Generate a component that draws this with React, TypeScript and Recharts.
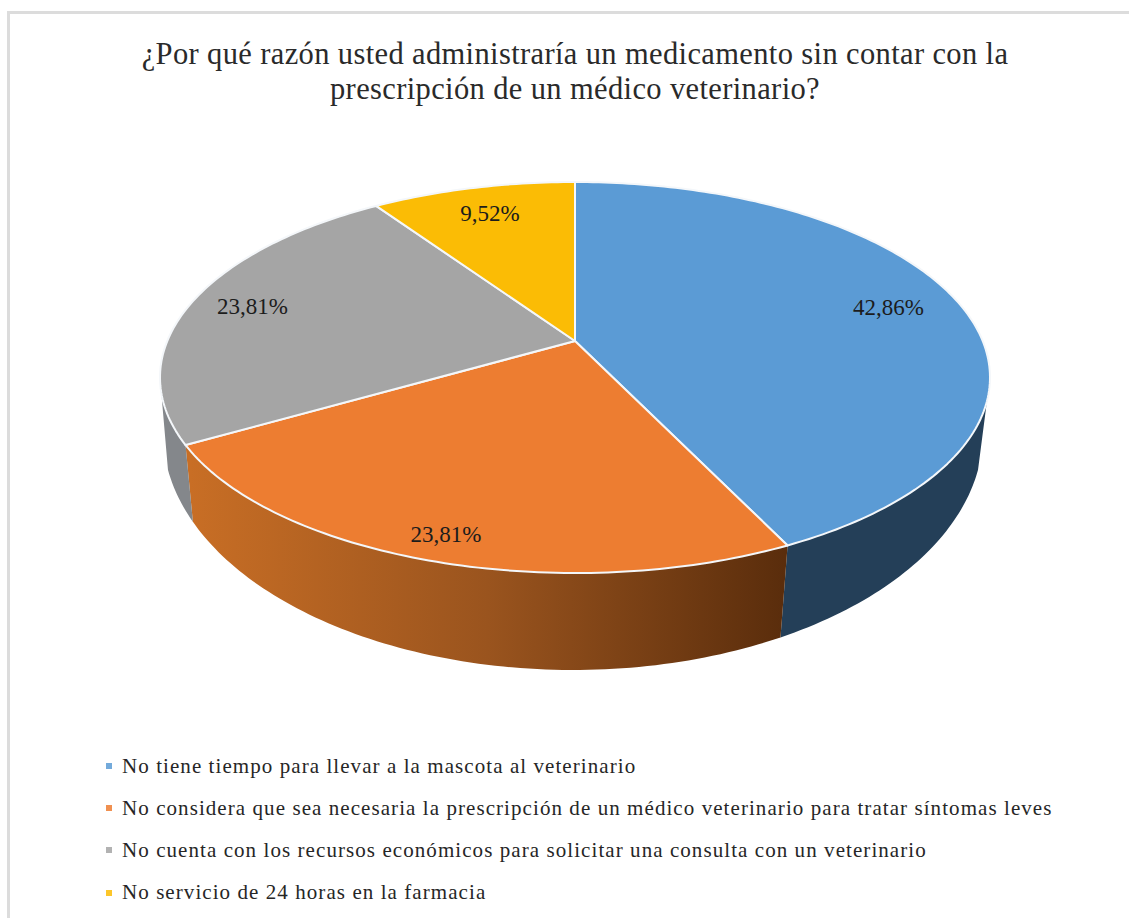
import React from "react";
import { PieChart, Pie, Cell, Legend } from "recharts";

const categories = [
  "No tiene tiempo para llevar a la mascota al veterinario",
  "No considera que sea necesaria la prescripción de un médico veterinario para tratar síntomas leves",
  "No cuenta con los recursos económicos para solicitar una consulta con un veterinario",
  "No servicio de 24 horas en la farmacia",
];
const shares = [42.86, 23.81, 23.81, 9.52];
const percentLabels = ["42,86%", "23,81%", "23,81%", "9,52%"];
const topColors = ["#5b9bd5", "#ed7d31", "#a5a5a5", "#fbbc05"];
const wallColors = ["#243f58", "url(#orangeWall)", "#84878b", "#7f6000"];
const titleLines = [
  "¿Por qué razón usted administraría un medicamento sin contar con la",
  "prescripción de un médico veterinario?",
];

const rows = categories.map((name, i) => ({ name, value: shares[i], label: percentLabels[i] }));

// projection of the pie's circle onto the tilted disc
const APEX_X = 575;
const APEX_Y = 341;
const TILT = 0.1867;
const SCALE_X = 407.7;
const SCALE_Y = 188.7;
const RIM_X = 573;
const RIM_Y = 433;
const RIM_RX = 410;
const RIM_RY = 237;
const RIM_K = 0.976;
const LABEL_R = [0.815, 0.9, 0.84, 0.81];

const project = (clockDeg: number, r = 1) => {
  const t = (clockDeg * Math.PI) / 180;
  const u = Math.sin(t);
  const v = Math.cos(t);
  const d = 1 + TILT * v * r;
  return { x: APEX_X + (SCALE_X * u * r) / d, y: APEX_Y - (SCALE_Y * v * r) / d };
};

const rimPoint = (clockDeg: number) => {
  const p = project(clockDeg);
  const off = (p.x - APEX_X) * RIM_K;
  return {
    x: RIM_X + off,
    y: RIM_Y + RIM_RY * Math.sqrt(Math.max(0, 1 - (off / RIM_RX) ** 2)),
  };
};

const sweep = (a: number, b: number) => {
  const n = Math.max(2, Math.ceil(Math.abs(b - a)));
  return Array.from({ length: n + 1 }, (_, i) => a + ((b - a) * i) / n);
};

const toPath = (pts: { x: number; y: number }[]) =>
  pts.map((p, i) => `${i ? "L" : "M"}${p.x.toFixed(2)} ${p.y.toFixed(2)}`).join("") + "Z";

const TopSlice = (props: any) => {
  const a = 90 - props.startAngle;
  const b = 90 - props.endAngle;
  const pts = [{ x: APEX_X, y: APEX_Y }, ...sweep(a, b).map((d) => project(d))];
  return <path d={toPath(pts)} fill={props.fill} stroke="#f4f7fa" strokeWidth={2} strokeLinejoin="round" />;
};

const WallSlice = (props: any) => {
  const lo = (Math.acos(-TILT) * 180) / Math.PI;
  const hi = 360 - lo;
  const a = Math.max(90 - props.startAngle, lo);
  const b = Math.min(90 - props.endAngle, hi);
  if (b <= a) return <g />;
  const angles = sweep(a, b);
  const pts = [...angles.map((d) => project(d)), ...[...angles].reverse().map(rimPoint)];
  return <path d={toPath(pts)} fill={props.fill} stroke="none" />;
};

const WallDivider = ({ deg }: { deg: number }) => {
  const top = project(deg);
  const bottom = rimPoint(deg);
  return <line x1={top.x} y1={top.y} x2={bottom.x} y2={bottom.y} stroke="#f6efe6" strokeWidth={2} />;
};

const renderPercent = (props: any) => {
  const mid = (90 - props.startAngle + (90 - props.endAngle)) / 2;
  const p = project(mid, LABEL_R[props.index]);
  return (
    <text
      x={p.x}
      y={p.y}
      textAnchor="middle"
      dominantBaseline="central"
      fontFamily="'Liberation Serif', serif"
      fontSize={23}
      fill="#1c1c1c"
    >
      {props.payload.label}
    </text>
  );
};

const LegendList = (props: any) => (
  <div>
    {(props.payload || [])
      .filter((entry: any) => topColors.includes(entry.color))
      .map((entry: any, i: number) => (
        <div key={i} style={{ display: "flex", alignItems: "center", height: 42.2 }}>
          <span style={{ width: 6, height: 6, background: entry.color, marginRight: 10, flex: "none", opacity: 0.85 }} />
          <span
            style={{
              fontFamily: "'Liberation Serif', serif",
              fontSize: 21,
              letterSpacing: 1.07,
              color: "#262626",
              whiteSpace: "nowrap",
            }}
          >
            {entry.value}
          </span>
        </div>
      ))}
  </div>
);

const boundaries = shares.reduce<number[]>((acc, s) => [...acc, (acc.length ? acc[acc.length - 1] : 0) + s], []);

export default function App() {
  return (
    <div style={{ position: "absolute", left: 0, top: 0, width: 1129, height: 918, background: "#fff", overflow: "hidden" }}>
      <div
        style={{
          position: "absolute",
          left: 7,
          top: 11,
          width: 1140,
          height: 940,
          border: "3px solid #dcdcdc",
          boxSizing: "border-box",
        }}
      />
      <PieChart width={1129} height={918} style={{ position: "absolute", left: 0, top: 0 }} margin={{ top: 0, right: 0, bottom: 0, left: 0 }}>
        <defs>
          <linearGradient id="orangeWall" gradientUnits="userSpaceOnUse" x1={190} y1={0} x2={785} y2={0}>
            <stop offset="0" stopColor="#c86e25" />
            <stop offset="0.5" stopColor="#9a541e" />
            <stop offset="1" stopColor="#5a2d0c" />
          </linearGradient>
        </defs>
        {titleLines.map((line, i) => (
          <text
            key={i}
            x={575}
            y={64 + i * 35}
            textAnchor="middle"
            fontFamily="'Liberation Serif', serif"
            fontSize={30.5}
            letterSpacing={0.37}
            fill="#2a2a2a"
          >
            {line}
          </text>
        ))}
        <Pie
          data={rows}
          dataKey="value"
          nameKey="name"
          cx={APEX_X}
          cy={APEX_Y}
          outerRadius={150}
          startAngle={90}
          endAngle={-270}
          legendType="none"
          isAnimationActive={false}
          shape={WallSlice}
          stroke="none"
        >
          {rows.map((_, i) => (
            <Cell key={i} fill={wallColors[i]} />
          ))}
        </Pie>
        <Pie
          data={rows}
          dataKey="value"
          nameKey="name"
          cx={APEX_X}
          cy={APEX_Y}
          outerRadius={150}
          startAngle={90}
          endAngle={-270}
          isAnimationActive={false}
          shape={TopSlice}
          label={renderPercent}
          labelLine={false}
        >
          {rows.map((_, i) => (
            <Cell key={i} fill={topColors[i]} />
          ))}
        </Pie>
        {boundaries.slice(0, 2).map((b) => (
          <WallDivider key={b} deg={(b / 100) * 360} />
        ))}
        <Legend
          layout="vertical"
          align="left"
          verticalAlign="top"
          itemSorter={null}
          wrapperStyle={{ left: 106, top: 745, width: 1000 }}
          content={<LegendList />}
        />
      </PieChart>
    </div>
  );
}
